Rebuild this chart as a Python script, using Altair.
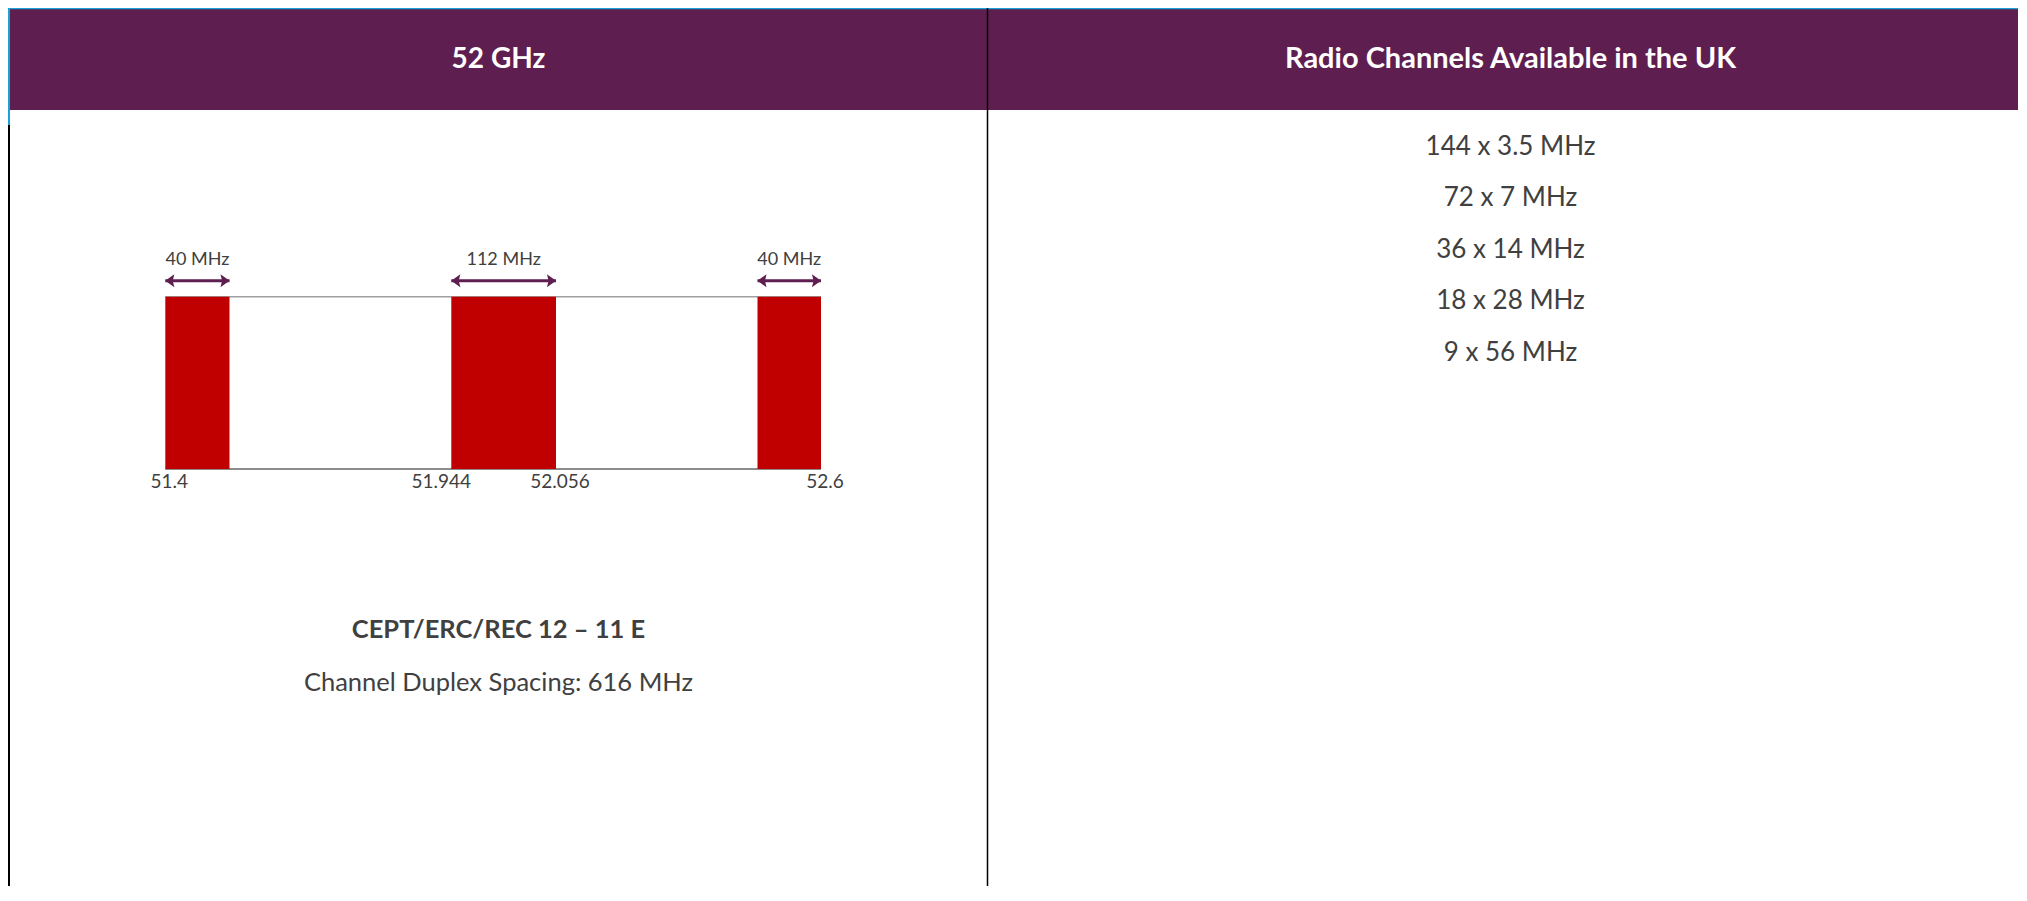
import altair as alt
import pandas as pd

# ---- data ----
panel_titles = ["52 GHz", "Radio Channels Available in the UK"]
block_start = [51.4, 51.944, 52.56]
block_end = [51.44, 52.056, 52.6]
block_label = ["40 MHz", "112 MHz", "40 MHz"]
tick_values = [51.4, 51.944, 52.056, 52.6]
tick_labels = ["51.4", "51.944", "52.056", "52.6"]
standard_text = "CEPT/ERC/REC 12 \u2013 11 E"
spacing_text = "Channel Duplex Spacing: 616 MHz"
channel_options = ["144 x 3.5 MHz", "72 x 7 MHz", "36 x 14 MHz", "18 x 28 MHz", "9 x 56 MHz"]

# ---- style ----
W, H = 2010, 878
PURPLE = "#5F1E50"
RED = "#C00000"
TXT = "#404040"
BLUE = "#1BA1D6"
FONT = "Lato"
DIV_X = 979.5
LEFT_CX = 490.5
RIGHT_CX = 1502.5

blocks = pd.DataFrame({"start": block_start, "end": block_end, "label": block_label})
ticks = pd.DataFrame({"freq": tick_values, "label": tick_labels})
frame = pd.DataFrame({"lo": [min(block_start)], "hi": [max(block_end)]})
options = pd.DataFrame({"idx": list(range(len(channel_options))), "label": channel_options})
one = pd.DataFrame({"a": [0]})

breaks = sorted(set(block_start + block_end))
xscale = alt.Scale(domain=breaks, range=[157.3, 221.5, 443.3, 548, 749.5, 813], nice=False, zero=False)


def X(field):
    return alt.X(field, type="quantitative", scale=xscale, axis=None)


def X2(field):
    return alt.X2(field)


header = alt.Chart(one).mark_rect(color=PURPLE).encode(
    x=alt.value(0), x2=alt.value(W), y=alt.value(0), y2=alt.value(102))
top_blue = alt.Chart(one).mark_rule(color=BLUE, strokeWidth=1.5).encode(
    x=alt.value(0), x2=alt.value(W), y=alt.value(0.5))
left_blue = alt.Chart(one).mark_rule(color=BLUE, strokeWidth=2).encode(
    x=alt.value(1), y=alt.value(0), y2=alt.value(117))
left_black = alt.Chart(one).mark_rule(color="#000000", strokeWidth=2).encode(
    x=alt.value(1), y=alt.value(117), y2=alt.value(H))
divider = alt.Chart(one).mark_rule(color="#000000", strokeWidth=1.5).encode(
    x=alt.value(DIV_X), y=alt.value(0), y2=alt.value(H))

title_left = alt.Chart(one).mark_text(
    font=FONT, fontSize=28, fontWeight="bold", color="white", align="center", baseline="alphabetic"
).encode(x=alt.value(LEFT_CX), y=alt.value(59.5), text=alt.value(panel_titles[0]))
title_right = alt.Chart(one).mark_text(
    font=FONT, fontSize=29, fontWeight="bold", color="white", align="center", baseline="alphabetic"
).encode(x=alt.value(RIGHT_CX), y=alt.value(59.5), text=alt.value(panel_titles[1]))

bars = alt.Chart(blocks).mark_rect(color=RED).encode(
    x=X("start"), x2=X2("end"), y=alt.value(288.7), y2=alt.value(461))
frame_top = alt.Chart(frame).mark_rule(color="#A0A0A0", strokeWidth=1.5).encode(
    x=X("lo"), x2=X2("hi"), y=alt.value(288.7))
frame_bot = alt.Chart(frame).mark_rule(color="#8C8C8C", strokeWidth=2).encode(
    x=X("lo"), x2=X2("hi"), y=alt.value(461))

shaft = alt.Chart(blocks).mark_rule(color=PURPLE, strokeWidth=3).encode(
    x=X("start"), x2=X2("end"), y=alt.value(272.7))
head_l = alt.Chart(blocks).mark_point(
    shape="M-0.7,0L0.7,-1L0.45,0L0.7,1Z", filled=True, opacity=1, color=PURPLE, size=169, xOffset=4.5
).encode(x=X("start"), y=alt.value(272.7))
head_r = alt.Chart(blocks).mark_point(
    shape="M0.7,0L-0.7,-1L-0.45,0L-0.7,1Z", filled=True, opacity=1, color=PURPLE, size=169, xOffset=-4.5
).encode(x=X("end"), y=alt.value(272.7))
width_labels = alt.Chart(blocks).transform_calculate(
    mid="(datum.start + datum.end) / 2"
).mark_text(font=FONT, fontSize=18, color=TXT, align="center", baseline="alphabetic").encode(
    x=X("mid"), y=alt.value(257), text="label:N")

# tick labels: most sit just right of their edge, the inner-left one sits left of it
tick_text = alt.Chart(ticks).transform_filter(
    "datum.label != '51.944'"
).mark_text(
    font=FONT, fontSize=19, color=TXT, align="center", baseline="alphabetic", dx=4
).encode(x=X("freq"), y=alt.value(480.3), text="label:N")
tick_text_inner = alt.Chart(ticks).transform_filter(
    "datum.label == '51.944'"
).mark_text(
    font=FONT, fontSize=19, color=TXT, align="center", baseline="alphabetic", dx=-10
).encode(x=X("freq"), y=alt.value(480.3), text="label:N")

std = alt.Chart(one).mark_text(
    font=FONT, fontSize=25.5, fontWeight="bold", color=TXT, align="center", baseline="alphabetic"
).encode(x=alt.value(LEFT_CX), y=alt.value(629.5), text=alt.value(standard_text))
spc = alt.Chart(one).mark_text(
    font=FONT, fontSize=25.5, color=TXT, align="center", baseline="alphabetic"
).encode(x=alt.value(LEFT_CX), y=alt.value(682.5), text=alt.value(spacing_text))

opts = alt.Chart(options).mark_text(
    font=FONT, fontSize=26, color=TXT, align="center", baseline="alphabetic"
).encode(
    x=alt.value(RIGHT_CX),
    y=alt.Y("idx:Q", scale=alt.Scale(domain=[0, len(channel_options) - 1], range=[147, 352.5],
                                        nice=False, zero=False), axis=None),
    text="label:N")

chart = alt.layer(
    header, top_blue, left_blue, left_black, divider, title_left, title_right,
    frame_top, frame_bot, bars, shaft, head_l, head_r, width_labels, tick_text, tick_text_inner,
    std, spc, opts
).properties(
    width=W, height=H, padding=0, autosize=alt.AutoSizeParams(type="none")
).configure_view(stroke=None).configure(background="white")

chart.save("out.html", embed_options={"renderer": "svg", "actions": False})
